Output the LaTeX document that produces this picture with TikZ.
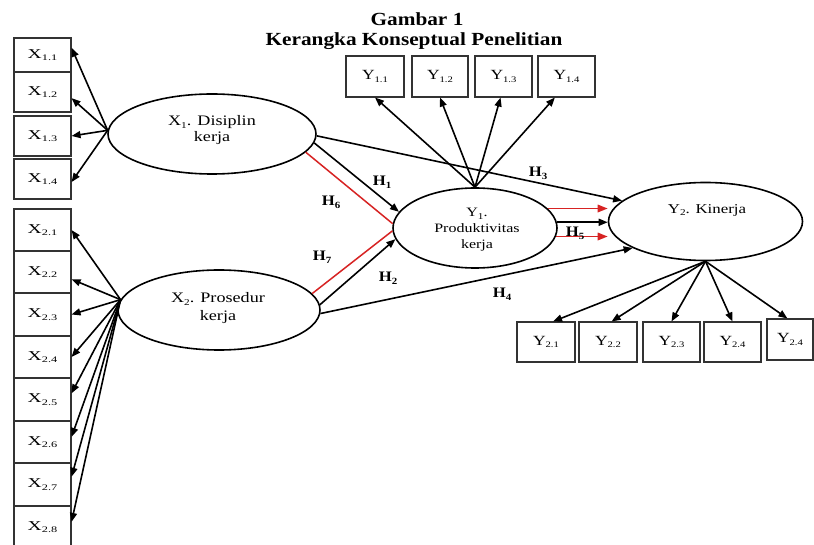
\documentclass[tikz,border=0pt]{standalone}
\usepackage{fontspec}
\setmainfont{Liberation Serif}[FakeStretch=1.25]
\newfontfamily\titlefont{Liberation Serif}[FakeStretch=1.15]
\newfontfamily\boxfont{Liberation Serif}[FakeStretch=1.45]
\usetikzlibrary{arrows.meta,shapes.geometric}
\definecolor{lnred}{RGB}{215,35,35}
\newcommand{\lsub}[1]{\raisebox{-0.4ex}{\fontsize{8.5}{8.5}\selectfont #1}}
\newcommand{\esub}[1]{\raisebox{-0.4ex}{\fontsize{9}{9}\selectfont #1}}
\newcommand{\hsub}[1]{\raisebox{-0.4ex}{\fontsize{9.5}{9.5}\selectfont\bfseries #1}}
\begin{document}
\begin{tikzpicture}[x=1pt,y=-1pt,
  box/.style n args={2}{draw=black!80,line width=1.1pt,minimum width=#1,minimum height=#2,inner sep=0pt,font=\boxfont\fontsize{13.5}{15}\selectfont},
  ybox/.style n args={2}{box={#1}{#2},font=\fontsize{14}{16}\selectfont},
  ell/.style={ellipse,draw,line width=1.6pt,inner sep=0pt},
  etext/.style={align=center,inner sep=0pt},
  arr/.style={line width=1.6pt,-{Triangle[length=9pt,width=7pt]}},
  redl/.style={line width=1.5pt,draw=lnred},
  redarr/.style={line width=1.7pt,draw=lnred,-{Triangle[length=10pt,width=7.5pt,fill=lnred]}},
  hlab/.style={font=\titlefont\fontsize{14.5}{16}\selectfont\bfseries,inner sep=0pt},
  ttl/.style={font=\titlefont\fontsize{18.5}{20}\selectfont\bfseries,inner sep=0pt}]
\useasboundingbox (0,0) rectangle (814,545);
\clip (0,0) rectangle (814,545);
\fill[white] (0,0) rectangle (814,545);

% title
\node[ttl] (t1) at (417,19) {Gambar 1};
\node[ttl] (t2) at (414,41) {Kerangka Konseptual Penelitian};

% X1 boxes
\node[box={57}{34}] (X11) at (42.5,55) {X\lsub{1.1}};
\node[box={57}{40}] (X12) at (42.5,92) {X\lsub{1.2}};
\node[box={57}{40}] (X13) at (42.5,136) {X\lsub{1.3}};
\node[box={57}{40}] (X14) at (42.5,179) {X\lsub{1.4}};
% X2 boxes
\node[box={57}{42}] (X21) at (42.5,230) {X\lsub{2.1}};
\node[box={57}{42}] (X22) at (42.5,272) {X\lsub{2.2}};
\node[box={57}{43}] (X23) at (42.5,314.5) {X\lsub{2.3}};
\node[box={57}{42}] (X24) at (42.5,357) {X\lsub{2.4}};
\node[box={57}{43}] (X25) at (42.5,399.5) {X\lsub{2.5}};
\node[box={57}{42}] (X26) at (42.5,442) {X\lsub{2.6}};
\node[box={57}{43}] (X27) at (42.5,484.5) {X\lsub{2.7}};
\node[box={57}{42}] (X28) at (42.5,527) {X\lsub{2.8}};
% Y1 boxes
\node[ybox={58}{41}] (Y11) at (375,76.5) {Y\lsub{1.1}};
\node[ybox={56}{41}] (Y12) at (440,76.5) {Y\lsub{1.2}};
\node[ybox={57}{41}] (Y13) at (503.5,76.5) {Y\lsub{1.3}};
\node[ybox={57}{41}] (Y14) at (566.5,76.5) {Y\lsub{1.4}};
% Y2 boxes
\node[ybox={58}{40}] (Y21) at (546,342) {Y\lsub{2.1}};
\node[ybox={58}{40}] (Y22) at (608,342) {Y\lsub{2.2}};
\node[ybox={57}{40}] (Y23) at (671.5,342) {Y\lsub{2.3}};
\node[ybox={57}{40}] (Y24) at (732.5,342) {Y\lsub{2.4}};
\node[ybox={46}{41}] (Y25) at (790,339.5) {Y\lsub{2.4}};

% ellipses
\node[ell,minimum width=208,minimum height=80] (X1) at (212,134) {};
\node[ell,minimum width=202,minimum height=80] (X2) at (219,310) {};
\node[ell,minimum width=164,minimum height=80] (Y1) at (475,228) {};
\node[ell,minimum width=194,minimum height=78] (Y2) at (705.5,221.5) {};
\node[etext,font=\fontsize{14.5}{16}\selectfont] (X1t) at (212,130) {X\esub{1}. Disiplin\\kerja};
\node[etext,font=\fontsize{14.5}{18}\selectfont] (X2t) at (218,308) {X\esub{2}. Prosedur\\kerja};
\node[etext,font=\fontsize{12.8}{16}\selectfont] (Y1t) at (477,230) {Y\esub{1}.\\Produktivitas\\kerja};
\node[etext,font=\fontsize{13.5}{15}\selectfont] (Y2t) at (707,210) {Y\esub{2}. Kinerja};

% indicator arrows X1
\draw[arr] (X1.178) -- (X11.14);
\draw[arr] (X1.178) -- (X12.-12);
\draw[arr] (X1.178) -- (X13.east);
\draw[arr] (X1.178) -- (X14.-6);
% indicator arrows X2
\draw[arr] (X2.174) -- (X21.east);
\draw[arr] (X2.174) -- (X22.-14);
\draw[arr] (X2.174) -- (X23.east);
\draw[arr] (X2.174) -- (X24.east);
\draw[arr] (X2.174) -- (X25.12);
\draw[arr] (X2.174) -- (X26.10);
\draw[arr] (X2.174) -- (X27.15);
\draw[arr] (X2.174) -- (X28.10);
% indicator arrows Y1
\draw[arr] (Y1.north) -- (Y11.south);
\draw[arr] (Y1.north) -- (Y12.south);
\draw[arr] (Y1.north) -- (Y13.262);
\draw[arr] (Y1.north) -- (Y14.241);
% indicator arrows Y2
\draw[arr] (Y2.south) -- (Y21.71);
\draw[arr] (Y2.south) -- (Y22.80);
\draw[arr] (Y2.south) -- (Y23.north);
\draw[arr] (Y2.south) -- (Y24.north);
\draw[arr] (Y2.south) -- (Y25.97);

% structural paths
\draw[arr] (X1.-5) -- (Y1.168);
\draw[arr] (X1.-1) -- (Y2.166);
\draw[arr] (X2.3) -- (Y1.188);
\draw[arr] (X2.-2) -- (Y2.200);
\draw[redl] (X1.-11) -- (Y1.177);
\draw[redl] (X2.10) -- (Y1.182);
\draw[redarr] (Y1.15) -- (Y1.15 -| Y2.west);
\draw[arr] (Y1.4) -- (Y1.4 -| Y2.west);
\draw[redarr] (Y1.-6) -- (Y1.-6 -| Y2.west);

% hypothesis labels
\node[hlab] (H1) at (382,182) {H\hsub{1}};
\node[hlab] (H6) at (331,202) {H\hsub{6}};
\node[hlab] (H7) at (322,257) {H\hsub{7}};
\node[hlab] (H2) at (388,278) {H\hsub{2}};
\node[hlab] (H3) at (538,173) {H\hsub{3}};
\node[hlab] (H4) at (502,294) {H\hsub{4}};
\node[hlab] (H5) at (575,233) {H\hsub{5}};
\end{tikzpicture}
\end{document}
